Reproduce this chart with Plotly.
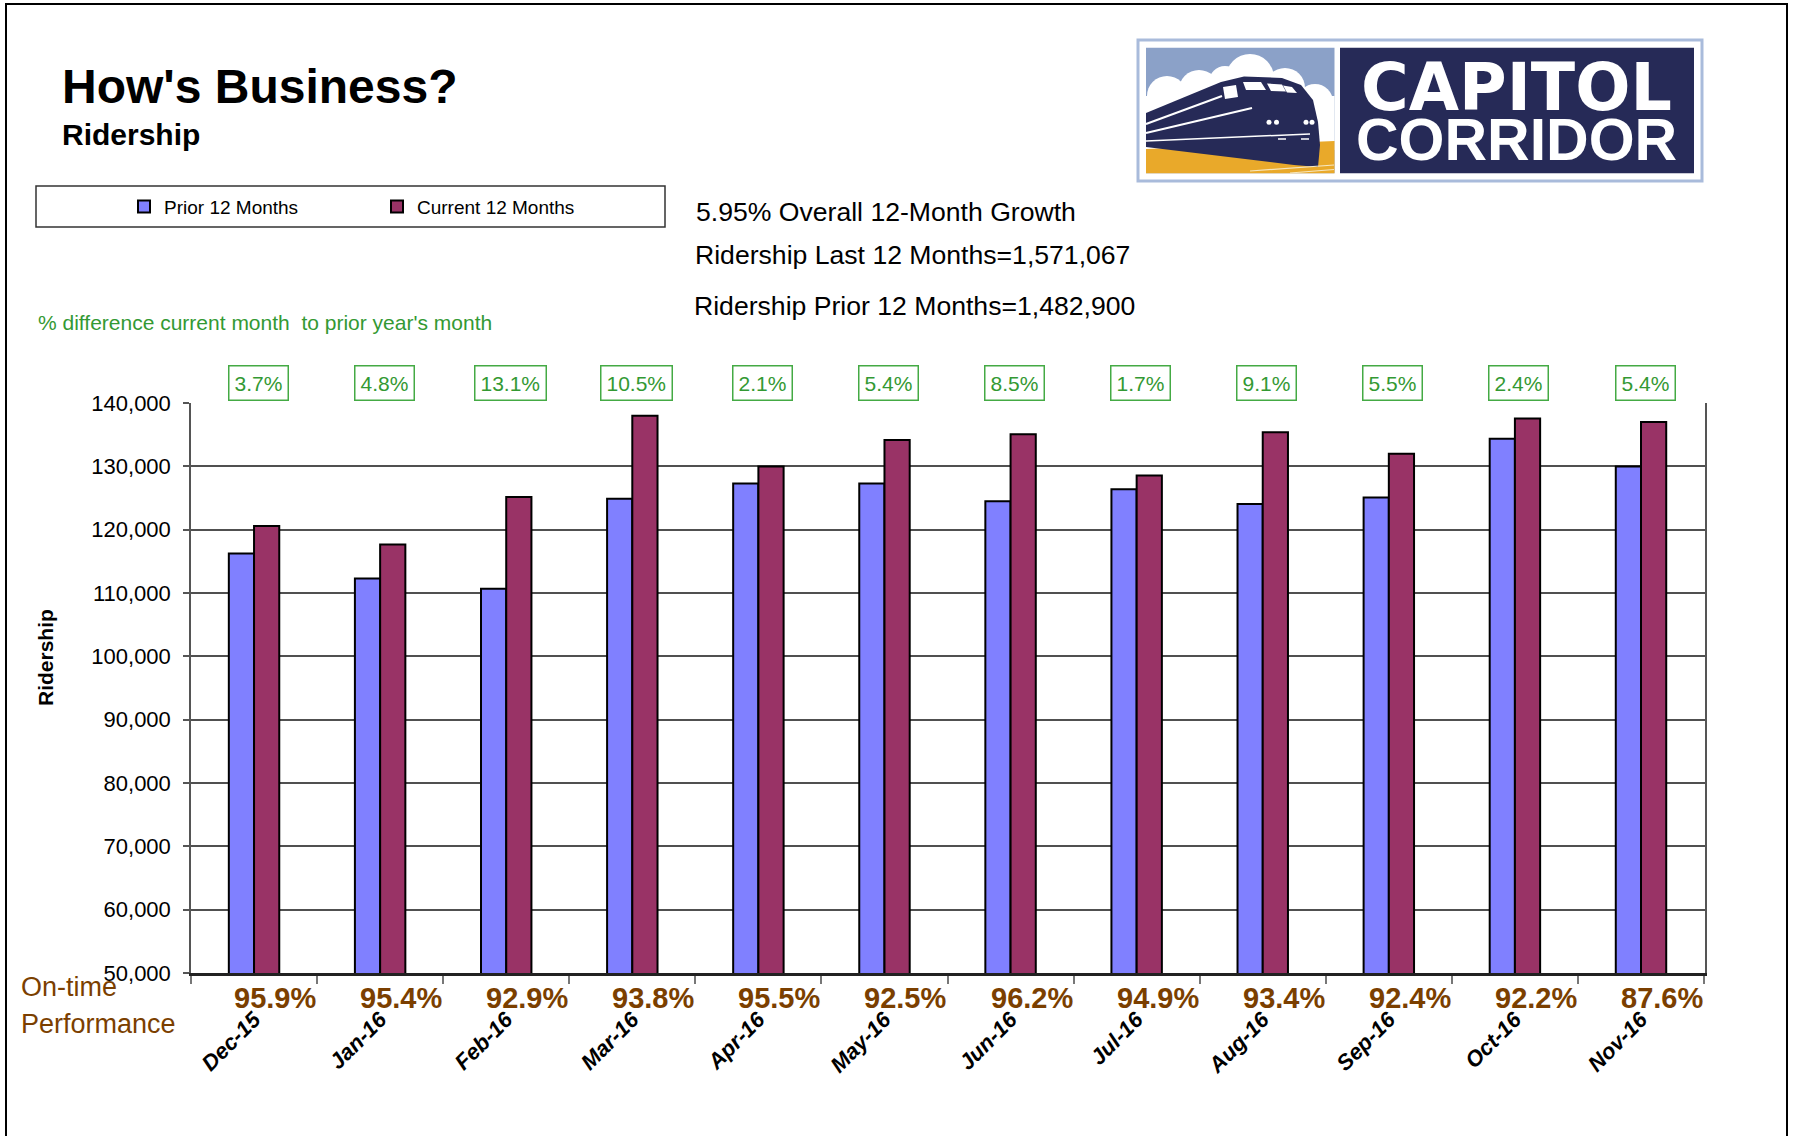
import plotly.graph_objects as go

# ---- data ----
months = ["Dec-15", "Jan-16", "Feb-16", "Mar-16", "Apr-16", "May-16",
          "Jun-16", "Jul-16", "Aug-16", "Sep-16", "Oct-16", "Nov-16"]
prior_12 = [116240, 112270, 110670, 124870, 127270, 127270,
            124470, 126370, 124070, 125070, 134370, 129960]
current_12 = [120570, 117670, 125170, 137970, 129970, 134170,
              135070, 128570, 135370, 131970, 137570, 136997]
on_time_pct = [95.9, 95.4, 92.9, 93.8, 95.5, 92.5,
               96.2, 94.9, 93.4, 92.4, 92.2, 87.6]
y_ticks = [50000, 60000, 70000, 80000, 90000, 100000,
           110000, 120000, 130000, 140000]

pct_diff = [(c / p - 1) * 100 for c, p in zip(current_12, prior_12)]
total_cur = sum(current_12)
total_prior = sum(prior_12)
growth = (total_cur / total_prior - 1) * 100

# ---- page geometry (pixels) ----
W, H = 1797, 1136
L, R, T, B = 191, 1705, 403, 973

def fx(x):
    return (x - L) / (R - L)

def fy(y):
    return 1 - (y - T) / (B - T)

def path(points):
    return "M" + " L".join(f"{fx(x):.5f},{fy(y):.5f}" for x, y in points) + " Z"

ARIAL = "Liberation Sans, Arial, sans-serif"
GREEN = "#339933"
BROWN = "#7b3f00"
NAVY = "#262a57"

fig = go.Figure()
fig.add_trace(go.Bar(x=months, y=prior_12, name="Prior 12 Months",
                     marker=dict(color="#8080ff", line=dict(color="black", width=2))))
fig.add_trace(go.Bar(x=months, y=current_12, name="Current 12 Months",
                     marker=dict(color="#993366", line=dict(color="black", width=2))))

shapes = []
annotations = []

def rect(x0, y0, x1, y1, fill=None, line_color=None, line_width=0, layer="above"):
    shapes.append(dict(type="rect", xref="paper", yref="paper",
                       x0=fx(x0), x1=fx(x1), y0=fy(y0), y1=fy(y1),
                       line=dict(color=line_color, width=line_width),
                       fillcolor=fill, layer=layer))

def circle(cx, cy, r, fill):
    shapes.append(dict(type="circle", xref="paper", yref="paper",
                       x0=fx(cx - r), x1=fx(cx + r), y0=fy(cy - r), y1=fy(cy + r),
                       line=dict(width=0), fillcolor=fill))

def seg(x0, y0, x1, y1, color, width):
    shapes.append(dict(type="line", xref="paper", yref="paper", x0=fx(x0), y0=fy(y0),
                       x1=fx(x1), y1=fy(y1), line=dict(color=color, width=width)))

def poly(points, fill):
    shapes.append(dict(type="path", xref="paper", yref="paper", path=path(points),
                       line=dict(width=0), fillcolor=fill))

# outer frame of the page and the legend frame
rect(6, 4, 1787, 1160, line_color="black", line_width=2, layer="below")
rect(36, 186, 665, 227, line_color="#333333", line_width=1.5)

# ---- logo ----
rect(1138, 40, 1702, 181, fill="white", line_color="#a9bbdb", line_width=3)
rect(1146, 47.7, 1334.5, 173.3, fill="#8ba1c8")
rect(1146, 96, 1334.5, 150, fill="white")
for cx, cy, r in [(1167, 96, 20), (1199, 90, 20), (1225, 82, 16), (1250, 78, 24),
                  (1285, 88, 20), (1315, 102, 18)]:
    circle(cx, cy, r, "white")
poly([(1146, 149), (1334.5, 141), (1334.5, 173.3), (1146, 173.3)], "#e9a92a")
# locomotive
poly([(1146, 113), (1221, 82), (1244, 76.5), (1282, 78), (1301, 85),
      (1313, 100), (1318, 122), (1320, 145), (1318, 167),
      (1294, 165), (1146, 147)], NAVY)
for x0, y0, x1, y1, w in [(1146, 124, 1222, 96, 2), (1146, 133, 1252, 108, 2),
                          (1146, 141, 1310, 134, 1.5)]:
    seg(x0, y0, x1, y1, "white", w)
for quad in [[(1223, 87), (1236, 85), (1238, 97), (1225, 99)],
             [(1243, 82), (1261, 82), (1266, 90), (1246, 90)],
             [(1267, 83.5), (1282, 84.5), (1286, 91.5), (1271, 91)],
             [(1283, 85.5), (1292, 87), (1297, 93), (1287, 92.5)]]:
    poly(quad, "white")
for cx in [1269, 1276.5, 1306, 1312]:
    circle(cx, 122.3, 2.5, "white")
for x0, x1 in [(1278, 1286), (1301, 1309)]:
    seg(x0, 139, x1, 139, "white", 1.5)
for x0, y0, x1, y1 in [(1250, 171, 1334, 165), (1290, 173, 1334, 169.5)]:
    seg(x0, y0, x1, y1, "#f6e7c0", 1.2)
# wordmark panel
rect(1340, 47.7, 1694, 173.3, fill=NAVY)
annotations.append(dict(text="<b>CAPITOL</b>", xref="paper", yref="paper", x=fx(1516), y=fy(88),
                        xanchor="center", yanchor="middle", showarrow=False,
                        font=dict(family="DejaVu Sans", size=65, color="white")))
annotations.append(dict(text="<b>CORRIDOR</b>", xref="paper", yref="paper", x=fx(1516), y=fy(140),
                        xanchor="center", yanchor="middle", showarrow=False,
                        font=dict(family=ARIAL, size=59, color="white")))

# ---- headings and summary ----
def text(s, x, y, size, color="black", bold=False, anchor="left", angle=0, family=ARIAL):
    annotations.append(dict(text=f"<b>{s}</b>" if bold else s, xref="paper", yref="paper",
                            x=fx(x), y=fy(y), xanchor=anchor, yanchor="middle",
                            showarrow=False, textangle=angle,
                            font=dict(family=family, size=size, color=color)))

text("How's Business?", 60, 86, 48, bold=True)
text("Ridership", 60, 134, 30, bold=True)
text(f"{growth:.2f}% Overall 12-Month Growth", 694, 212, 26.6)
text(f"Ridership Last 12 Months={total_cur:,}", 693, 255, 26.6)
text(f"Ridership Prior 12 Months={total_prior:,}", 692, 305.5, 26.6)
text("% difference current month\u00a0 to prior year's month", 36, 322, 21, color=GREEN)
text("Ridership", 45, 658, 21, bold=True, anchor="center", angle=-90)
text("On-time", 19, 987, 27, color=BROWN)
text("Performance", 19, 1024, 27, color=BROWN)

# month-over-month change boxes above the bars
for m, d in zip(months, pct_diff):
    annotations.append(dict(text=f"{d:.1f}%", x=m, xref="x", yref="paper", y=fy(383),
                            xanchor="center", yanchor="middle", xshift=4, showarrow=False,
                            font=dict(family=ARIAL, size=21, color=GREEN),
                            bordercolor="#44aa44", borderwidth=1.5, borderpad=5,
                            bgcolor="white"))

# on-time performance under each month
for m, v in zip(months, on_time_pct):
    annotations.append(dict(text=f"<b>{v:.1f}%</b>", x=m, xref="x", yref="paper", y=fy(998),
                            xanchor="center", yanchor="middle", xshift=21, showarrow=False,
                            font=dict(family=ARIAL, size=29, color=BROWN)))

fig.update_layout(
    width=W, height=H, autosize=False,
    margin=dict(l=L, r=W - R, t=T, b=H - B, pad=0),
    paper_bgcolor="white", plot_bgcolor="white",
    barmode="group", bargap=0.6, bargroupgap=0,
    font=dict(family=ARIAL, color="black"),
    shapes=shapes, annotations=annotations,
    legend=dict(orientation="h", x=fx(124), y=fy(206.7), xanchor="left", yanchor="middle",
                font=dict(family=ARIAL, size=19, color="black"),
                bgcolor="rgba(0,0,0,0)", entrywidth=208, entrywidthmode="pixels"),
    showlegend=True,
)
fig.update_yaxes(range=[50000, 140000], tickvals=y_ticks, tickformat=",",
                 showgrid=True, gridcolor="#505050", gridwidth=1.5,
                 showline=True, linecolor="#555555", linewidth=1.5, mirror=True,
                 ticks="outside", ticklen=6, tickcolor="#555555", tickwidth=1.5,
                 tickfont=dict(family=ARIAL, size=22, color="black"),
                 ticklabelstandoff=8, zeroline=False)
fig.update_xaxes(type="category", showline=True, linecolor="#222222", linewidth=3,
                 ticks="outside", tickson="boundaries", ticklen=8, tickcolor="#777777",
                 tickwidth=1.5, tickangle=-45, ticklabelstandoff=22,
                 tickfont=dict(family=ARIAL, size=22, color="black",
                               weight="bold", style="italic"))

fig.write_html("out.html")
